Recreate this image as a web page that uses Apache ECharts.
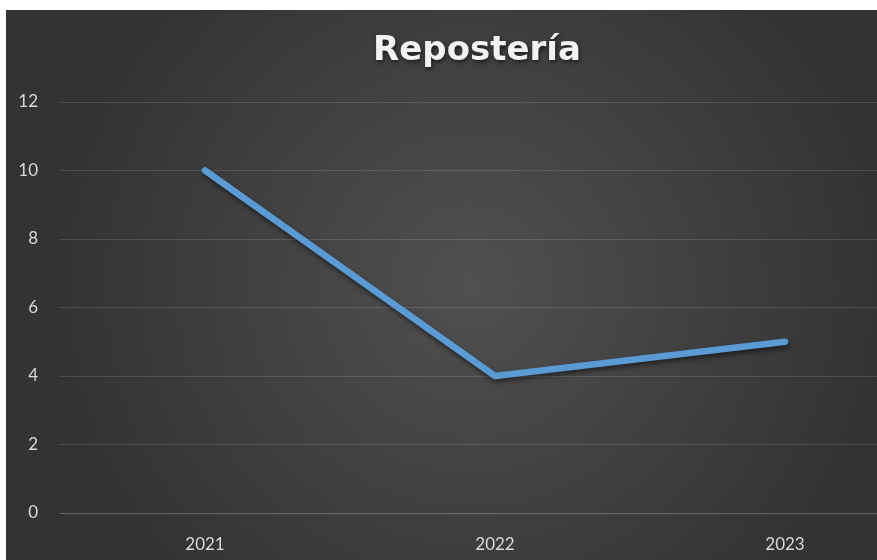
<!DOCTYPE html>
<html>
<head>
<meta charset="utf-8">
<script src="https://cdn.jsdelivr.net/npm/echarts@6/dist/echarts.min.js"></script>
<style>
html,body{margin:0;padding:0;background:#ffffff;overflow:hidden;width:877px;height:560px;}
#chart{position:absolute;left:6px;top:10px;width:930px;height:550px;}
</style>
</head>
<body>
<div id="chart"></div>
<script>
const titleText = 'Repostería';
const categories = ['2021', '2022', '2023'];
const values = [10, 4, 5];
const yTicks = { min: 0, max: 12, interval: 2 };

const chart = echarts.init(document.getElementById('chart'), null, { renderer: 'canvas' });
const labelColor = '#d9d9d9';
const gridColor = 'rgba(255,255,255,0.13)';
chart.setOption({
  backgroundColor: {
    type: 'radial', x: 0.5, y: 0.5, r: 0.75,
    colorStops: [
      { offset: 0, color: '#505050' },
      { offset: 1, color: '#333333' }
    ]
  },
  animation: false,
  title: {
    text: titleText,
    left: 466,
    top: 19,
    textAlign: 'center',
    textStyle: {
      color: '#f2f2f2',
      fontFamily: 'DejaVu Sans',
      fontWeight: 'bold',
      fontSize: 34,
      textShadowColor: 'rgba(0,0,0,0.6)',
      textShadowBlur: 4,
      textShadowOffsetX: 1,
      textShadowOffsetY: 2
    }
  },
  grid: { left: 54, top: 92, right: 6, height: 411, containLabel: false },
  xAxis: {
    type: 'category',
    data: categories,
    boundaryGap: true,
    axisLine: { show: true, lineStyle: { color: gridColor, width: 1 } },
    axisTick: { show: false },
    axisLabel: { color: labelColor, fontFamily: 'Lato', fontSize: 17, margin: 23 }
  },
  yAxis: {
    type: 'value',
    min: yTicks.min, max: yTicks.max, interval: yTicks.interval,
    axisLine: { show: false },
    axisTick: { show: false },
    splitLine: { lineStyle: { color: gridColor, width: 1 } },
    axisLabel: { color: labelColor, fontFamily: 'Lato', fontSize: 17, margin: 22 }
  },
  series: [{
    type: 'line',
    data: values,
    showSymbol: false,
    symbol: 'none',
    lineStyle: {
      color: '#5b9bd5', width: 6.5, cap: 'round', join: 'round',
      shadowColor: 'rgba(0,0,0,0.5)', shadowBlur: 5, shadowOffsetX: 1, shadowOffsetY: 3
    }
  }]
});
</script>
</body>
</html>
